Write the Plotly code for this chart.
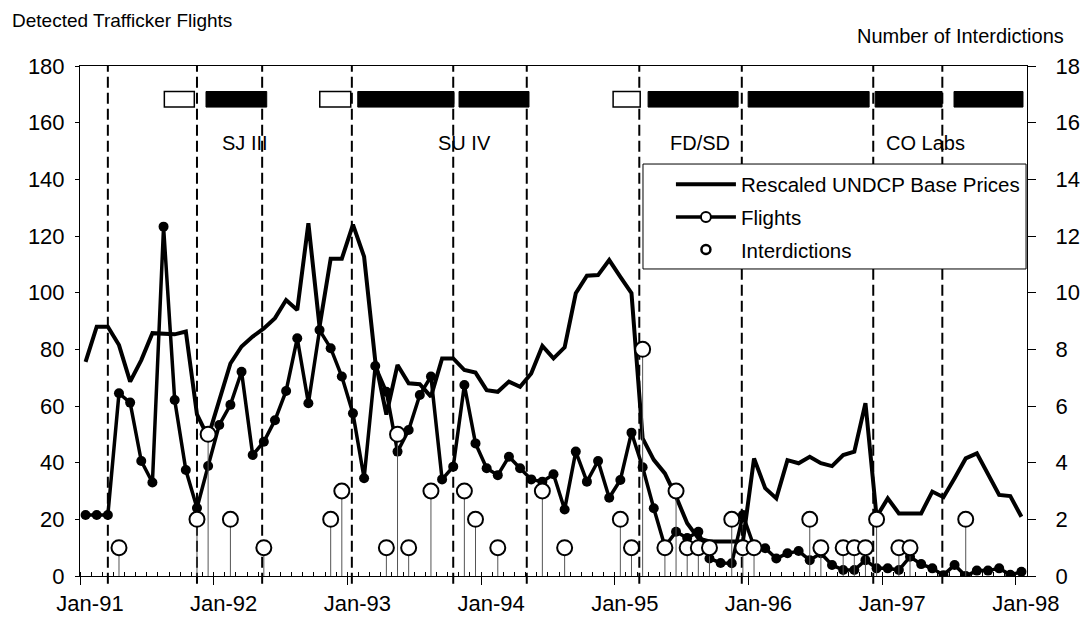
import plotly.graph_objects as go

# ---------------- data ----------------
month_index = list(range(85))  # 0 = Jan-91 ... 84 = Jan-98

price_rescaled = [
    75.6, 88, 88, 81.5, 68.6, 76.2, 85.7, 85.4, 85.3, 86.3,
    57, 49, 62, 75, 81, 84.5, 87.4, 91, 97.4, 93.9,
    124.5, 88, 112, 112, 124, 112.7, 76, 57, 74.5, 68,
    67.7, 63.3, 76.8, 76.8, 72.7, 71.8, 65.6, 65, 68.6, 66.8,
    71.5, 81.2, 76.8, 80.7, 99.8, 106, 106.2, 111.5, 105.6, 99.8,
    48.6, 41, 36.2, 28, 18.6, 13.3, 12.2, 12.2, 12.2, 12.2,
    41.5, 31, 27.4, 40.9, 39.8, 42.1, 39.8, 38.8, 42.7, 43.9,
    61, 20.9, 27.4, 22.1, 22.1, 22.1, 29.8, 27.8, 34.5, 41.5,
    43.3, 36.2, 28.6, 28.2, 20.9,
]

flights = [
    21.5, 21.5, 21.5, 64.5, 61.2, 40.6, 33, 123.3, 62.1, 37.4,
    24, 38.8, 53.3, 60.4, 72.1, 42.7, 47.4, 55, 65.3, 83.9,
    61, 86.8, 80.4, 70.4, 57.4, 34.5, 74.1, 65, 43.9, 51.5,
    63.9, 70.4, 34.1, 38.6, 67.4, 46.8, 38, 35.6, 42.1, 38,
    34.1, 33.3, 35.9, 23.5, 43.9, 33.3, 40.6, 27.6, 33.9, 50.6,
    38.4, 23.9, 10.4, 15.6, 13.4, 15.6, 6.2, 4.6, 4.5, 21.5,
    10.4, 9.8, 6.2, 8, 8.8, 5.6, 8, 3.9, 2.1, 2.1,
    5.6, 2.7, 2.7, 2.1, 6.8, 4.2, 2.7, 0.3, 3.9, 0,
    1.9, 1.9, 2.7, 0.4, 1.5,
]

interdiction_month = [3, 10, 11, 13, 16, 22, 23, 27, 28, 29, 31, 34, 35, 37, 41, 43,
                      48, 49, 50, 52, 53, 54, 55, 56, 58, 59, 60, 65, 66, 68, 69, 70,
                      71, 73, 74, 79]
interdiction_count = [1, 2, 5, 2, 1, 2, 3, 1, 5, 1, 3, 3, 2, 1, 3, 1,
                      2, 1, 8, 1, 3, 1, 1, 1, 2, 1, 1, 2, 1, 1, 1, 1,
                      2, 1, 1, 2]

year_labels = ["Jan-91", "Jan-92", "Jan-93", "Jan-94", "Jan-95", "Jan-96", "Jan-97", "Jan-98"]
year_tick_month = [-0.5, 11.5, 23.5, 35.5, 47.5, 59.5, 71.5, 83.5]

event_month = [2.0, 10.0, 15.85, 23.9, 33.0, 39.6, 49.7, 58.9, 70.7, 76.9]
planned_periods = [(7.07, 9.76), (21.02, 23.8), (47.35, 49.78)]
operation_periods = [(10.81, 16.26), (24.43, 33.07), (33.52, 39.8), (50.49, 58.57),
                     (59.47, 70.33), (70.87, 76.88), (77.95, 84.14)]
operation_names = ["SJ III", "SU IV", "FD/SD", "CO Labs"]
operation_name_month = [14.33, 33.97, 55.16, 75.35]
operation_name_level = 153
bar_low, bar_high = 165.5, 171

FONT = "Liberation Sans, Arial, Helvetica, sans-serif"

fig = go.Figure()

fig.add_trace(go.Scatter(x=month_index, y=price_rescaled, mode="lines",
                         line=dict(color="black", width=4), showlegend=False, hoverinfo="skip"))
fig.add_trace(go.Scatter(x=month_index, y=flights, mode="lines+markers",
                         line=dict(color="black", width=3.5),
                         marker=dict(size=10, color="black"), showlegend=False))

stem_x, stem_y = [], []
for m, c in zip(interdiction_month, interdiction_count):
    stem_x += [m, m, None]
    stem_y += [0, c, None]
fig.add_trace(go.Scatter(x=stem_x, y=stem_y, yaxis="y2", mode="lines",
                         line=dict(color="#555555", width=1), showlegend=False, hoverinfo="skip"))
fig.add_trace(go.Scatter(x=interdiction_month, y=interdiction_count, yaxis="y2", mode="markers",
                         marker=dict(symbol="circle", size=15, color="white",
                                     line=dict(color="black", width=2)),
                         showlegend=False))

# legend entries
fig.add_trace(go.Scatter(x=[None], y=[None], mode="lines", line=dict(color="black", width=4),
                         name="Rescaled UNDCP Base Prices", legendgroup="a"))
fig.add_trace(go.Scatter(x=[None], y=[None], mode="lines+markers", line=dict(color="black", width=3.5),
                         marker=dict(size=10, color="white", line=dict(color="black", width=2)),
                         name="Flights", legendgroup="b"))
fig.add_trace(go.Scatter(x=[None], y=[None], mode="markers",
                         marker=dict(size=9, color="white", line=dict(color="black", width=2.5)),
                         name="Interdictions", legendgroup="c"))

shapes = []
for m in event_month:
    shapes.append(dict(type="line", xref="x", yref="paper", x0=m, x1=m, y0=-0.015, y1=1,
                       line=dict(color="black", width=2, dash="11px,5px"), layer="below"))
for a, b in planned_periods:
    shapes.append(dict(type="rect", xref="x", yref="y", x0=a, x1=b, y0=bar_low, y1=bar_high,
                       fillcolor="white", line=dict(color="black", width=1.5), layer="above"))
for a, b in operation_periods:
    shapes.append(dict(type="rect", xref="x", yref="y", x0=a, x1=b, y0=bar_low, y1=bar_high,
                       fillcolor="black", line=dict(color="black", width=1), layer="above"))
# legend frame
shapes.append(dict(type="rect", xref="paper", yref="paper", x0=0.5945, x1=0.999, y0=0.602, y1=0.8078,
                   fillcolor="white", line=dict(color="black", width=1), layer="above"))

annotations = []
for name, m in zip(operation_names, operation_name_month):
    annotations.append(dict(x=m, y=operation_name_level, xref="x", yref="y", text=name,
                            showarrow=False, font=dict(size=20, color="black", family=FONT),
                            xanchor="center", yanchor="middle"))
annotations.append(dict(x=-0.0739, y=1.090, xref="paper", yref="paper", text="Detected Trafficker Flights",
                        showarrow=False, xanchor="left", yanchor="middle",
                        font=dict(size=19, color="black", family=FONT)))
annotations.append(dict(x=1.041, y=1.0588, xref="paper", yref="paper", text="Number of Interdictions",
                        showarrow=False, xanchor="right", yanchor="middle",
                        font=dict(size=20, color="black", family=FONT)))

fig.update_layout(
    width=1082, height=627, autosize=False,
    margin=dict(l=80, r=55, t=66, b=51, autoexpand=False),
    paper_bgcolor="white", plot_bgcolor="white",
    font=dict(family=FONT, color="black", size=20),
    shapes=shapes, annotations=annotations,
    legend=dict(x=0.624, y=0.807, xanchor="left", yanchor="top", bgcolor="rgba(0,0,0,0)",
                borderwidth=0, font=dict(size=20.5, color="black", family=FONT),
                itemwidth=60, traceorder="grouped", tracegroupgap=3),
    xaxis=dict(range=[-0.5, 84.5], tickmode="array", tickvals=year_tick_month, ticktext=year_labels,
               ticks="outside", ticklen=8, tickwidth=1, tickcolor="black", ticklabelshift=10,
               tickfont=dict(size=22), showline=True, linecolor="black", linewidth=1, mirror=True,
               showgrid=False, zeroline=False, automargin=False,
               minor=dict(ticks="inside", ticklen=4, tickmode="linear", tick0=-0.5, dtick=1,
                          tickcolor="black", showgrid=False)),
    yaxis=dict(range=[0, 180], tickmode="linear", tick0=0, dtick=20, ticks="outside", ticklen=4,
               tickcolor="black", tickfont=dict(size=22), ticklabelstandoff=6, automargin=False,
               showline=True, linecolor="black", linewidth=1, showgrid=False, zeroline=False),
    yaxis2=dict(range=[0, 18], tickmode="linear", tick0=0, dtick=2, overlaying="y", side="right",
                ticks="outside", ticklen=8, tickcolor="black", tickfont=dict(size=22),
                ticklabelstandoff=15, showline=True, linecolor="black", linewidth=1,
                showgrid=False, zeroline=False, automargin=False),
)

fig.write_html("out.html", config={"displayModeBar": False},
               post_script="document.body.style.margin='0';")
